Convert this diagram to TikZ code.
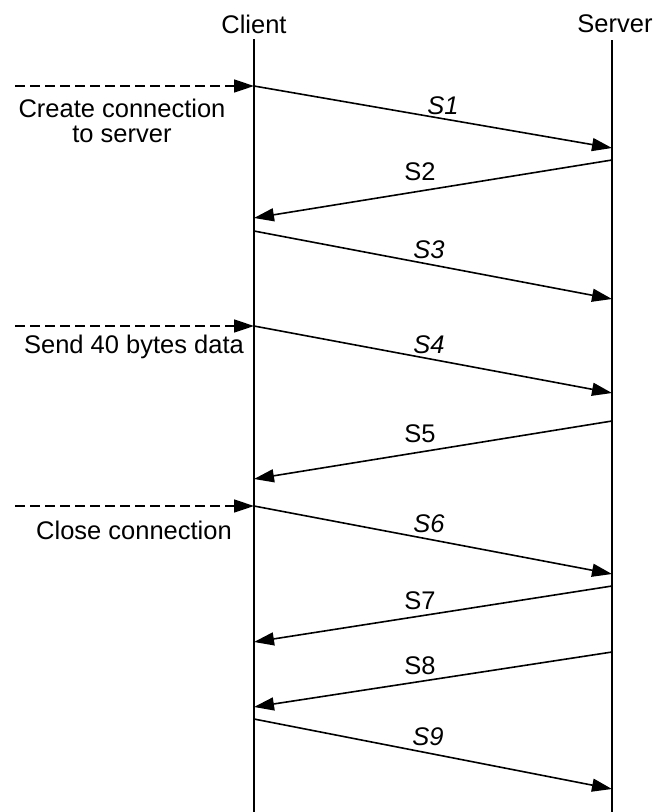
\documentclass[tikz,border=0pt]{standalone}
\usepackage{fontspec}
\setmainfont{Liberation Sans}
\usetikzlibrary{arrows.meta}
\begin{document}
\begin{tikzpicture}[x=1pt,y=-1pt,
  txt/.style={font=\fontsize{25.5}{26}\selectfont, inner sep=0pt},
  lbl/.style={font=\fontsize{25.5}{26}\selectfont, inner sep=0pt},
  ilbl/.style={font=\fontsize{25.5}{26}\selectfont\itshape, inner sep=0pt},
  life/.style={line width=1.6pt},
  msg/.style={line width=1.6pt, -{Triangle[length=20pt,width=13pt]}},
  trig/.style={line width=1.6pt, dash pattern=on 10pt off 5pt, -{Triangle[length=20pt,width=13pt]}}]
\useasboundingbox (0,0) rectangle (660,812);
% lifeline heads
\node[txt] (client) at (254,24) {Client};
\node[txt] (server) at (615,24) {Server};
\coordinate (ctop) at (254,39);
\coordinate (cbot) at (254,812);
\coordinate (stop) at (612,40);
\coordinate (sbot) at (612,812);
\draw[life] (ctop) -- (cbot);
\draw[life] (stop) -- (sbot);
% endpoints
\coordinate (c1) at (254,86);  \coordinate (s1) at (612,148);
\coordinate (s2) at (612,160); \coordinate (c2) at (254,218);
\coordinate (c3) at (254,231); \coordinate (s3) at (612,299);
\coordinate (c4) at (254,326); \coordinate (s4) at (612,393);
\coordinate (s5) at (612,421); \coordinate (c5) at (254,479);
\coordinate (c6) at (254,506); \coordinate (s6) at (612,574);
\coordinate (s7) at (612,586); \coordinate (c7) at (254,642);
\coordinate (s8) at (612,652); \coordinate (c8) at (254,707);
\coordinate (c9) at (254,719); \coordinate (s9) at (612,789);
% triggers
\coordinate (t1) at (15,86);
\coordinate (t4) at (15,326);
\coordinate (t6) at (15,506);
\draw[trig] (t1) -- (c1);
\draw[trig] (t4) -- (c4);
\draw[trig] (t6) -- (c6);
\node[txt] (create1) at (122,108) {Create connection};
\node[txt] (create2) at (122,134) {to server};
\node[txt] (send) at (134,347) {Send 40 bytes data};
\node[txt] (close) at (134,530) {Close connection};
% messages
\draw[msg] (c1) -- (s1);
\draw[msg] (s2) -- (c2);
\draw[msg] (c3) -- (s3);
\draw[msg] (c4) -- (s4);
\draw[msg] (s5) -- (c5);
\draw[msg] (c6) -- (s6);
\draw[msg] (s7) -- (c7);
\draw[msg] (s8) -- (c8);
\draw[msg] (c9) -- (s9);
% labels
\node[ilbl] (l1) at (443,106) {S1};
\node[lbl]  (l2) at (420,172) {S2};
\node[ilbl] (l3) at (429,250) {S3};
\node[ilbl] (l4) at (429,345) {S4};
\node[lbl]  (l5) at (420,434) {S5};
\node[ilbl] (l6) at (429,524) {S6};
\node[lbl]  (l7) at (420,601) {S7};
\node[lbl]  (l8) at (420,666) {S8};
\node[ilbl] (l9) at (428,737) {S9};
\end{tikzpicture}
\end{document}
